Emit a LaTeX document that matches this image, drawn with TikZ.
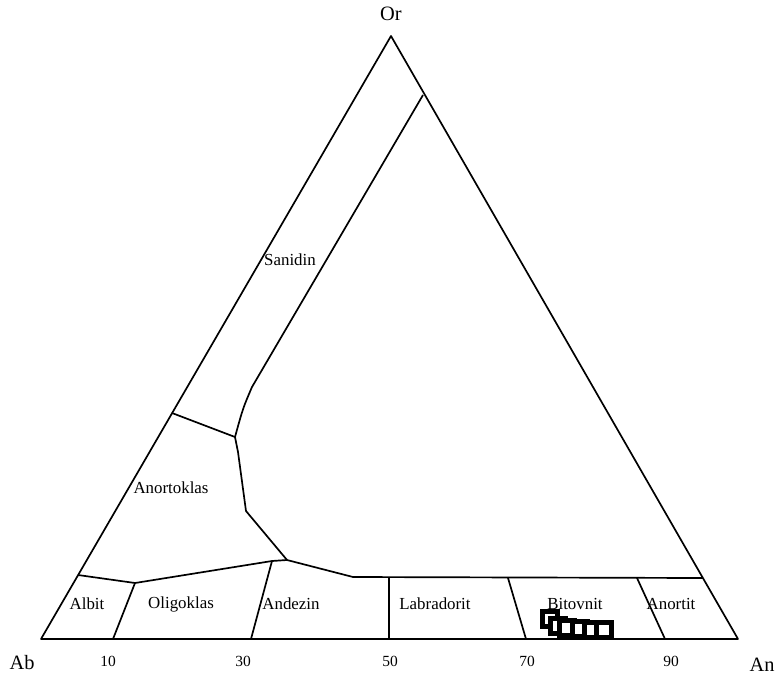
\documentclass[tikz,border=0pt]{standalone}
\usepackage{fontspec}
\setmainfont{Liberation Serif}
\usetikzlibrary{positioning, calc}
\tikzset{
  edge/.style  = {line width=1.2pt, line join=round},
  bound/.style = {line width=1.2pt, line join=round},
  field/.style = {font=\fontsize{12}{14}\selectfont, inner sep=1pt},
  apex/.style  = {font=\fontsize{14.5}{16}\selectfont, inner sep=1pt},
  tick/.style  = {font=\fontsize{11}{12}\selectfont, inner sep=1pt},
  sq/.style    = {draw, rectangle, line width=3.2pt, minimum size=11pt,
                  inner sep=0pt, fill=white},
}
\begin{document}
\begin{tikzpicture}[x=0.025cm, y=-0.025cm]
\useasboundingbox (0,0) rectangle (781,684);

% ────────────────────────────────────────────────────────────
%  Corners of the Ab--An--Or triangle (pixel grid, y down)
% ────────────────────────────────────────────────────────────
\coordinate (ab) at (41,639);
\coordinate (an) at (738,639);
\coordinate (or) at (391,36);

\draw[edge] (ab) -- (an) -- (or) -- cycle;

% ── Sanidin / Anortoklas boundary ──────────────────────────
\coordinate (s-top)  at (423,95);
\coordinate (s-bend) at (252,387);
\coordinate (s-knee) at (235,437);
\coordinate (s-left) at (172,413);
\coordinate (s-low)  at (246,511);
\coordinate (s-foot) at (287,560);

\draw[bound] (s-top) -- (s-bend)
  .. controls (243,408) .. (s-knee);
\draw[bound] (s-left) -- (s-knee);
\draw[bound] (s-knee) -- (238,452) -- (s-low) -- (s-foot);

% ── Plagioclase band ────────────────────────────────────────
\coordinate (b-left)  at (78,575);
\coordinate (b-ol)    at (135,583);
\coordinate (b-an)    at (272,561);
\coordinate (b-mid)   at (353,577);
\coordinate (b-right) at (703,578);

\draw[bound] (b-left) -- (b-ol) -- (b-an) -- (s-foot) -- (b-mid) -- (b-right);

% dividers inside the band
\draw[bound] (b-ol)     -- (113,639);
\draw[bound] (b-an)     -- (251,639);
\draw[bound] (389,577)  -- (389,639);
\draw[bound] (508,578)  -- (526,639);
\draw[bound] (637,578)  -- (665,639);

% ═══════════════════════════════════════════════════════════
%  Field names
% ═══════════════════════════════════════════════════════════
\node[field] (san)  at (290,260) {Sanidin};
\node[field] (anok) at (171,488) {Anortoklas};
\node[field] (alb)  at (87,604)  {Albit};
\node[field] (olig) at (181,604) {Oligoklas};
\node[field] (andz) at (291,604) {Andezin};
\node[field] (lab)  at (435,604) {Labradorit};
\node[field] (bit)  at (575,604) {Bitovnit};
\node[field] (anor) at (671,604) {Anortit};

% ── End members and An scale ───────────────────────────────
\node[apex] (or-lbl) at (391,14)  {Or};
\node[apex] (ab-lbl) at (22,663)  {Ab};
\node[apex] (an-lbl) at (762,665) {An};

\foreach \x/\v in {108/10, 243/30, 390/50, 527/70, 671/90}
  \node[tick] (t\v) at (\x,661) {\v};

% ── Analysed feldspars ─────────────────────────────────────
\foreach \x/\y [count=\i] in {550/619, 558/626, 567/628, 580/629, 592/630, 604/630}
  \node[sq] (pt\i) at (\x,\y) {};

\end{tikzpicture}
\end{document}
